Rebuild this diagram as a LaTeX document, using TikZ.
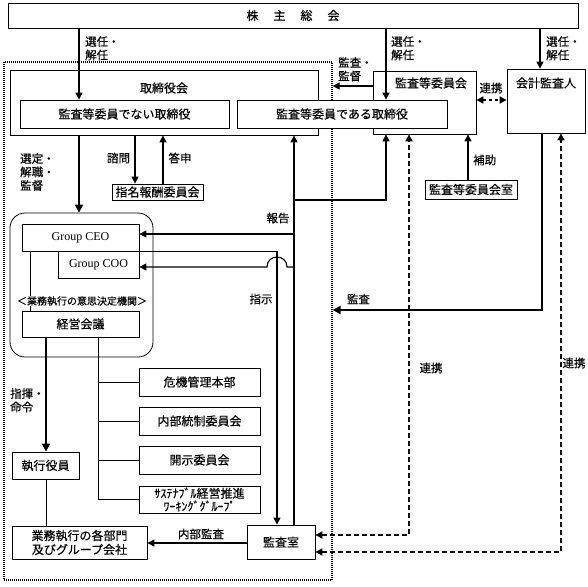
\documentclass[tikz,border=0pt]{standalone}
\usepackage{fontspec}
\setmainfont{Noto Sans CJK JP}[FakeBold=0.4]
\newfontfamily\serifen{Liberation Serif}
\usetikzlibrary{arrows.meta}
\begin{document}
\begin{tikzpicture}[x=1pt,y=-1pt,
  box/.style={draw, fill=white, line width=0.8pt, inner sep=0pt, font=\fontsize{12}{14}\selectfont},
  lbl/.style={inner sep=0pt, font=\fontsize{11.5}{13.5}\selectfont, align=left},
  ar/.style={line width=1.1pt, -{Triangle[length=7pt,width=7pt]}},
  thk/.style={line width=2pt, -{Triangle[length=8pt,width=8pt]}},
  dsh/.style={line width=1.8pt, dash pattern=on 5pt off 3pt, {Triangle[length=7pt,width=7pt]}-{Triangle[length=7pt,width=7pt]}},
  ln/.style={line width=0.8pt}
]
\useasboundingbox (0,0) rectangle (588,586);

% helper coordinates
\coordinate (xA) at (79,0);
\coordinate (xB) at (386,0);
\coordinate (xC) at (540,0);
\coordinate (xD) at (468,0);
\coordinate (xE) at (135,0);
\coordinate (xF) at (163,0);
\coordinate (xR) at (294,0);
\coordinate (xS) at (277,0);
\coordinate (xK) at (542,0);
\coordinate (xL1) at (409,0);
\coordinate (xL2) at (561,0);
\coordinate (xM) at (46,0);
\coordinate (xN) at (30,0);
\coordinate (xT) at (98,0);
\coordinate (yA) at (0,86);
\coordinate (yB) at (0,100);
\coordinate (y200) at (0,200);
\coordinate (y234) at (0,234);
\coordinate (y267) at (0,267);
\coordinate (y310) at (0,310);
\coordinate (y535) at (0,535);
\coordinate (y552) at (0,552);
\coordinate (y543) at (0,543);

% dotted boundary
\node[draw, line width=1.2pt, dash pattern=on 1pt off 1pt, minimum width=328pt, minimum height=518pt, inner sep=0pt] (bound) at (168,321) {};

% top
\node[box, minimum width=570pt, minimum height=25pt] (kab) at (293,15.5) {株\hspace{15pt}主\hspace{15pt}総\hspace{15pt}会};

% board
\node[box, minimum width=308pt, minimum height=65pt] (tbk) at (164,102.5) {};
\node[lbl, font=\fontsize{12}{14}\selectfont] (tbklbl) at (164,88) {取締役会};
\node[box, minimum width=103pt, minimum height=63pt] (kansaiinkai) at (424.5,102.5) {};
\node[lbl, font=\fontsize{12}{14}\selectfont] (kilbl) at (431,83) {監査等委員会};
\node[box, minimum width=209pt, minimum height=28pt] (nondir) at (124.5,114) {監査等委員でない取締役};
\node[box, minimum width=210pt, minimum height=28pt] (acdir) at (342,114) {監査等委員である取締役};
\node[box, minimum width=78pt, minimum height=64pt] (kaikei) at (546,101) {};
\node[lbl, font=\fontsize{12}{14}\selectfont] (kklbl) at (546,83) {会計監査人};
\node[box, minimum width=92pt, minimum height=19pt] (room) at (471,189.5) {監査等委員会室};
\node[box, minimum width=91pt, minimum height=16pt] (shimei) at (157.5,192) {指名報酬委員会};

% executive
\node[draw, line width=0.8pt, rounded corners=15pt, minimum width=143pt, minimum height=144pt, inner sep=0pt] (ishi) at (81.5,285) {};
\draw[ln] (xN |- 0,251) coordinate (ceobot) -- (xN |- 0,311) coordinate (kktop);
\node[box, minimum width=117pt, minimum height=27pt, font=\serifen\fontsize{12}{14}\selectfont] (ceo) at (80.5,237.5) {Group CEO};
\node[box, minimum width=81pt, minimum height=27pt, font=\serifen\fontsize{12}{14}\selectfont] (coo) at (98.5,264.5) {Group COO};
\node[lbl, fill=white, inner sep=0.5pt, font=\fontsize{10}{12}\selectfont] (ishilbl) at (82,301) {＜業務執行の意思決定機関＞};
\node[box, minimum width=117pt, minimum height=26pt] (keiei) at (80.5,324) {経営会議};

\node[box, minimum width=121pt, minimum height=28pt] (kiki) at (199.5,382) {危機管理本部};
\node[box, minimum width=121pt, minimum height=28pt] (naibu) at (199.5,421) {内部統制委員会};
\node[box, minimum width=121pt, minimum height=28pt] (kaiji) at (199.5,460) {開示委員会};
\node[box, minimum width=121pt, minimum height=27pt, align=center, font=\fontsize{12}{13}\selectfont] (sust) at (199.5,499.5) {ｻｽﾃﾅﾌﾞﾙ経営推進\\ﾜｰｷﾝｸﾞｸﾞﾙｰﾌﾟ};

\node[box, minimum width=67pt, minimum height=27pt] (shikko) at (45.5,465.5) {執行役員};
\node[box, minimum width=135pt, minimum height=33pt, align=center, font=\fontsize{12}{14}\selectfont] (gyomu) at (79.5,542.5) {業務執行の各部門\\及びグループ会社};
\node[box, minimum width=68pt, minimum height=34pt] (kansa) at (281,542) {監査室};

% arrows from shareholders
\draw[ar] (kab.south -| xA) -- (nondir.north -| xA);
\draw[ar] (kab.south -| xB) -- (acdir.north -| xB);
\draw[ar] (kab.south -| xC) -- (kaikei.north -| xC);
\node[lbl, anchor=north west] (l1) at (85,36) {選任・\\解任};
\node[lbl, anchor=north west] (l2) at (391,36) {選任・\\解任};
\node[lbl, anchor=north west] (l3) at (546,36) {選任・\\解任};

% audit committee relations
\draw[ar] (kansaiinkai.west |- yA) -- (bound.east |- yA);
\node[lbl, anchor=north west] (l4) at (338,57) {監査・\\監督};
\draw[line width=1.8pt, dash pattern=on 3pt off 3pt, {Triangle[length=7pt,width=7pt]}-{Triangle[length=7pt,width=7pt]}] (kansaiinkai.east |- yB) -- (kaikei.west |- yB);
\node[lbl] (l5) at (491,88) {連携};
\draw[ar] (room.north -| xD) -- (kansaiinkai.south -| xD);
\node[lbl, anchor=west] (l6) at (473,160) {補助};

% board to executive
\draw[thk] (tbk.south -| xA) -- (ishi.north -| xA);
\node[lbl, anchor=north west] (l7) at (20,153) {選定・\\解職・\\監督};
\draw[ar] (tbk.south -| xE) -- (shimei.north -| xE);
\draw[ar] (shimei.north -| xF) -- (tbk.south -| xF);
\node[lbl] (l8) at (118.5,158) {諮問};
\node[lbl] (l9) at (180,158) {答申};

% report lines
\draw[ar] (kansa.north -| xR) -- (tbk.south -| xR);
\draw[ar] (xR |- y200) -- (xB |- y200) -- (kansaiinkai.south -| xB);
\draw[ar] (xR |- y234) -- (ceo.east |- y234);
\draw[ar] (xR |- y267) -- (287,267) .. controls (287,253.7) and (267,253.7) .. (267,267) -- (coo.east |- y267);
\node[lbl] (l10) at (278,218) {報告};

% instruction
\draw[ar] (ceo.south east) -- (xS |- ceo.south) -- (kansa.north -| xS);
\node[lbl] (l11) at (261,299) {指示};

% external audit
\draw[line width=2pt, -{Triangle[length=8pt,width=8pt]}] (kaikei.south -| xK) -- (xK |- y310) -- (bound.east |- y310);
\node[lbl] (l12) at (358.5,299) {監査};

% cooperation dashed
\draw[dsh] (kansa.east |- y535) -- (xL1 |- y535) -- (kansaiinkai.south -| xL1);
\draw[dsh] (kansa.east |- y552) -- (xL2 |- y552) -- (kaikei.south -| xL2);
\node[lbl] (l13) at (431,368) {連携};
\node[lbl] (l14) at (574,363) {連携};

% executive structure
\draw[thk] (keiei.south -| xM) -- (shikko.north -| xM);
\node[lbl, anchor=north west] (l15) at (10,388) {指揮・\\命令};
\draw[ln] (shikko.south -| xM) -- (gyomu.north -| xM);
\draw[ln] (keiei.south -| xT) -- (xT |- sust.west);
\draw[ln] (xT |- kiki.west) -- (kiki.west);
\draw[ln] (xT |- naibu.west) -- (naibu.west);
\draw[ln] (xT |- kaiji.west) -- (kaiji.west);
\draw[ln] (xT |- sust.west) -- (sust.west);

% internal audit
\draw[ar] (kansa.west |- y543) -- (gyomu.east |- y543);
\node[lbl] (l16) at (201,534) {内部監査};
\end{tikzpicture}
\end{document}
